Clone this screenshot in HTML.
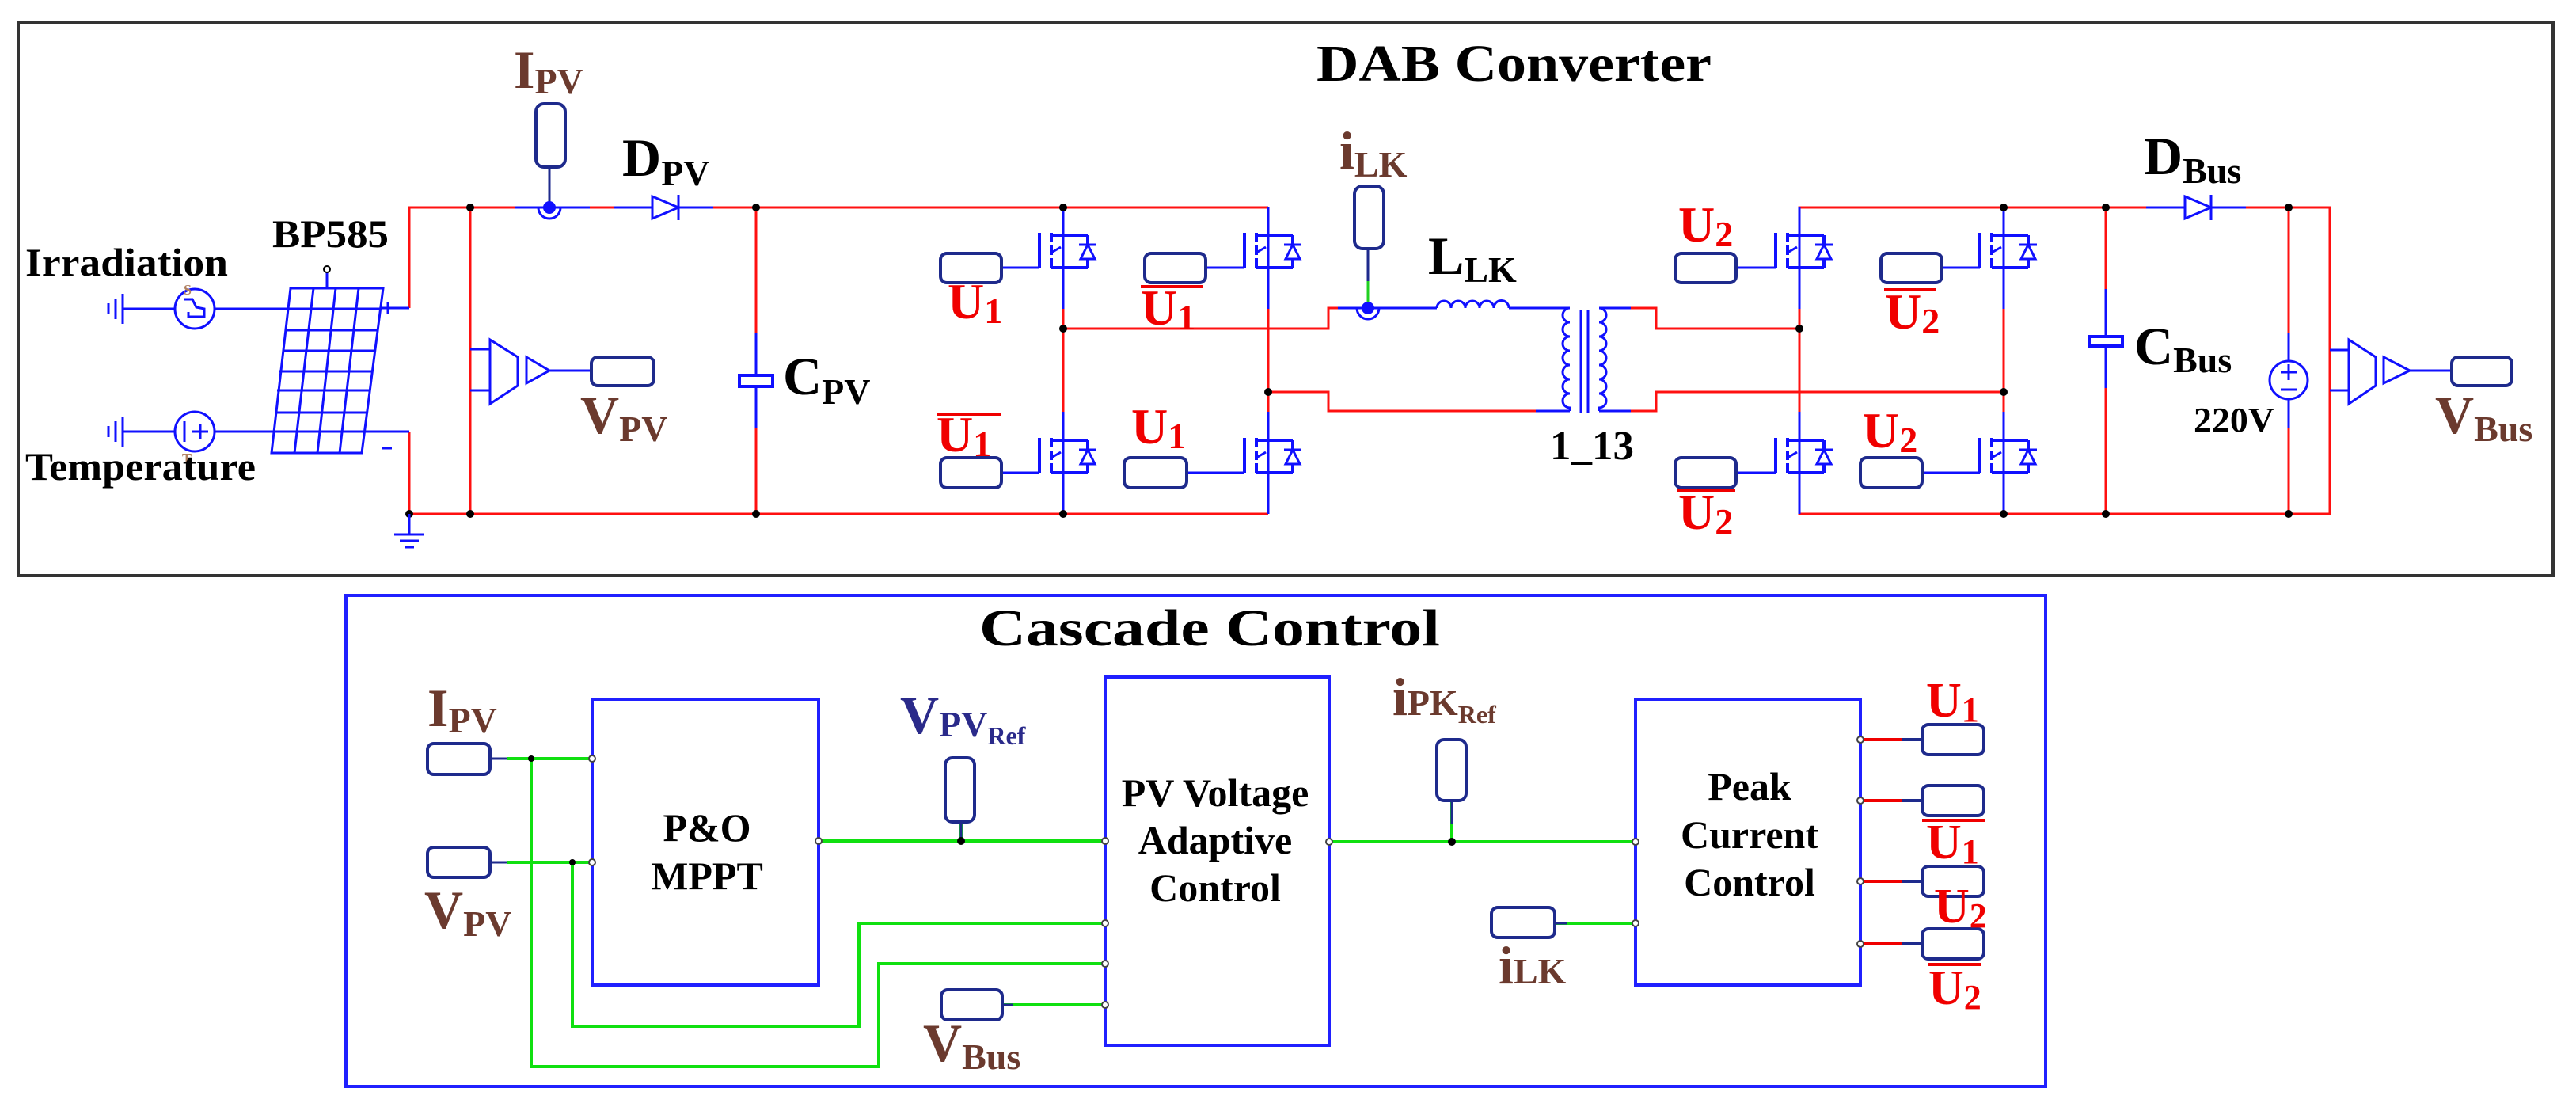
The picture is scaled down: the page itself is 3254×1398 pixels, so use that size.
<!DOCTYPE html>
<html><head><meta charset="utf-8"><style>
html,body{margin:0;padding:0;background:#fff;}
svg{display:block;}
text{font-family:"Liberation Serif",serif;font-weight:bold;}
</style></head><body>
<svg width="3254" height="1398" viewBox="0 0 3254 1398" xmlns="http://www.w3.org/2000/svg">
<defs>
<g id="swU">
  <line x1="-30" y1="-3" x2="-30" y2="41" stroke="#1010ff" stroke-width="4"/>
  <line x1="-15" y1="-3" x2="-15" y2="44" stroke="#1010ff" stroke-width="4" stroke-dasharray="12,4"/>
  <line x1="-15" y1="0" x2="31" y2="0" stroke="#1010ff" stroke-width="4"/>
  <line x1="-15" y1="41" x2="31" y2="41" stroke="#1010ff" stroke-width="4"/>
  <line x1="31" y1="0" x2="31" y2="41" stroke="#1010ff" stroke-width="4"/>
  <line x1="-15" y1="22" x2="-3" y2="15" stroke="#1010ff" stroke-width="3"/>
  <polygon points="31,12 22,30 40,30" fill="#fff" stroke="#1010ff" stroke-width="3"/>
  <line x1="20" y1="12" x2="42" y2="12" stroke="#1010ff" stroke-width="3"/>
</g>
</defs>

<!-- ===== TOP BOX ===== -->
<rect x="23" y="28" width="3202" height="699" fill="none" stroke="#333" stroke-width="4"/>
<text x="1663" y="102" font-size="66" textLength="499" lengthAdjust="spacingAndGlyphs">DAB Converter</text>

<g fill="none" stroke="#ff1010" stroke-width="3">
  <path d="M517 389 V262 H1602"/>
  <path d="M517 545 V649 H1602"/>
  <line x1="594" y1="262" x2="594" y2="649"/>
  <line x1="955" y1="262" x2="955" y2="649"/>
  <line x1="1343" y1="262" x2="1343" y2="649"/>
  <line x1="1602" y1="262" x2="1602" y2="649"/>
  <path d="M1343 415 H1678 V389 H1720"/>
  <path d="M1602 495 H1678 V519 H1960"/>
  <path d="M2040 389 H2092 V415 H2273"/>
  <path d="M2040 519 H2092 V495 H2531"/>
  <path d="M2273 262 H2943 V649 H2273 Z"/>
  <line x1="2531" y1="262" x2="2531" y2="649"/>
  <line x1="2660" y1="262" x2="2660" y2="649"/>
  <line x1="2891" y1="262" x2="2891" y2="649"/>
</g>
<g fill="none" stroke="#1010ff" stroke-width="3">
  <line x1="650" y1="262" x2="745" y2="262"/>
  <line x1="775" y1="262" x2="901" y2="262"/>
  <line x1="955" y1="420" x2="955" y2="540"/>
  <line x1="1343" y1="262" x2="1343" y2="390"/>
  <line x1="1343" y1="520" x2="1343" y2="649"/>
  <line x1="1602" y1="262" x2="1602" y2="390"/>
  <line x1="1602" y1="520" x2="1602" y2="649"/>
  <line x1="2273" y1="262" x2="2273" y2="390"/>
  <line x1="2273" y1="520" x2="2273" y2="649"/>
  <line x1="2531" y1="262" x2="2531" y2="390"/>
  <line x1="2531" y1="520" x2="2531" y2="649"/>
  <line x1="2660" y1="365" x2="2660" y2="490"/>
  <line x1="2711" y1="262" x2="2837" y2="262"/>
  <line x1="2891" y1="420" x2="2891" y2="540"/>
  <path d="M1690 389 H1815"/>
  <path d="M1906 389 H1983"/>
  <path d="M1940 519 H1983"/>
  <path d="M2020 389 H2060"/>
  <path d="M2020 519 H2060"/>
  <path d="M594 441 H619 M594 493 H619"/>
  <path d="M2943 442 H2967 M2943 493 H2967"/>
</g>
<g fill="#fff" stroke="#1010ff" stroke-width="4">
  <rect x="934" y="474" width="42" height="14"/>
  <rect x="2639" y="425" width="42" height="12"/>
</g>
<g fill="#000">
  <circle cx="594" cy="262" r="5"/><circle cx="594" cy="649" r="5"/>
  <circle cx="955" cy="262" r="5"/><circle cx="955" cy="649" r="5"/>
  <circle cx="517" cy="649" r="5"/>
  <circle cx="1343" cy="262" r="5"/><circle cx="1343" cy="649" r="5"/><circle cx="1343" cy="415" r="5"/>
  <circle cx="1602" cy="495" r="5"/>
  <circle cx="2273" cy="415" r="5"/><circle cx="2531" cy="495" r="5"/>
  <circle cx="2531" cy="262" r="5"/><circle cx="2531" cy="649" r="5"/>
  <circle cx="2660" cy="262" r="5"/><circle cx="2660" cy="649" r="5"/>
  <circle cx="2891" cy="262" r="5"/><circle cx="2891" cy="649" r="5"/>
</g>

<g fill="#fff" stroke="#1010ff" stroke-width="3">
  <polygon points="824,248 857,262 824,276"/>
  <line x1="857" y1="246" x2="857" y2="278"/>
  <polygon points="2760,248 2793,262 2760,276"/>
  <line x1="2793" y1="246" x2="2793" y2="278"/>
</g>

<g fill="none" stroke="#1010ff" stroke-width="3">
  <path d="M680 262 A14 14 0 0 0 708 262"/>
  <line x1="694" y1="211" x2="694" y2="262" stroke="#1e2a8c"/>
</g>
<circle cx="694" cy="262" r="8" fill="#1010ff"/>
<rect x="677" y="131" width="37" height="80" rx="10" fill="#fff" stroke="#1e2a8c" stroke-width="4"/>

<g fill="none" stroke="#1010ff" stroke-width="3">
  <path d="M1714 389 A14 14 0 0 0 1742 389"/>
  <line x1="1728" y1="314" x2="1728" y2="355" stroke="#1e2a8c"/>
  <line x1="1728" y1="355" x2="1728" y2="385" stroke="#20d020"/>
</g>
<circle cx="1728" cy="389" r="8" fill="#1010ff"/>
<rect x="1711" y="235" width="37" height="79" rx="10" fill="#fff" stroke="#1e2a8c" stroke-width="4"/>

<path d="M1815 389 a9 9 0 0 1 18 0 a9 9 0 0 1 18 0 a9 9 0 0 1 18 0 a9 9 0 0 1 18 0 a9 9 0 0 1 19 0" fill="none" stroke="#1010ff" stroke-width="3"/>
<path d="M1983 389 a9 9 0 0 0 0 18 a9 9 0 0 0 0 18 a9 9 0 0 0 0 18 a9 9 0 0 0 0 18 a9 9 0 0 0 0 18 a9 9 0 0 0 0 18 a9 9 0 0 0 0 18 v4" fill="none" stroke="#1010ff" stroke-width="3"/>
<path d="M2020 389 a9 9 0 0 1 0 18 a9 9 0 0 1 0 18 a9 9 0 0 1 0 18 a9 9 0 0 1 0 18 a9 9 0 0 1 0 18 a9 9 0 0 1 0 18 a9 9 0 0 1 0 18 v4" fill="none" stroke="#1010ff" stroke-width="3"/>
<line x1="1997" y1="392" x2="1997" y2="522" stroke="#1010ff" stroke-width="3"/>
<line x1="2006" y1="392" x2="2006" y2="522" stroke="#1010ff" stroke-width="3"/>

<use href="#swU" x="1343" y="297"/>
<use href="#swU" x="1343" y="556"/>
<use href="#swU" x="1602" y="297"/>
<use href="#swU" x="1602" y="556"/>
<use href="#swU" x="2273" y="297"/>
<use href="#swU" x="2273" y="556"/>
<use href="#swU" x="2531" y="297"/>
<use href="#swU" x="2531" y="556"/>
<g stroke="#1010ff" stroke-width="3">
  <line x1="1265" y1="338" x2="1313" y2="338"/><line x1="1265" y1="597" x2="1313" y2="597"/>
  <line x1="1523" y1="338" x2="1572" y2="338"/><line x1="1499" y1="597" x2="1572" y2="597"/>
  <line x1="2193" y1="338" x2="2243" y2="338"/><line x1="2193" y1="597" x2="2243" y2="597"/>
  <line x1="2453" y1="338" x2="2501" y2="338"/><line x1="2428" y1="597" x2="2501" y2="597"/>
</g>
<g fill="#fff" stroke="#1e2a8c" stroke-width="4">
  <rect x="1188" y="320" width="77" height="37" rx="8"/>
  <rect x="1188" y="578" width="77" height="38" rx="8"/>
  <rect x="1446" y="320" width="77" height="37" rx="8"/>
  <rect x="1420" y="578" width="79" height="38" rx="8"/>
  <rect x="2116" y="320" width="77" height="37" rx="8"/>
  <rect x="2116" y="578" width="77" height="38" rx="8"/>
  <rect x="2376" y="320" width="77" height="37" rx="8"/>
  <rect x="2350" y="578" width="78" height="38" rx="8"/>
</g>

<g fill="#fff" stroke="#1010ff" stroke-width="3">
  <polygon points="619,429 654,451 654,487 619,510"/>
  <polygon points="665,451 694,468 665,484"/>
  <line x1="694" y1="468" x2="747" y2="468"/>
  <polygon points="2967,429 3001,451 3001,487 2967,510"/>
  <polygon points="3011,451 3044,468 3011,484"/>
  <line x1="3044" y1="468" x2="3097" y2="468"/>
</g>
<g fill="#fff" stroke="#1e2a8c" stroke-width="4">
  <rect x="747" y="451" width="79" height="36" rx="8"/>
  <rect x="3097" y="451" width="76" height="36" rx="8"/>
</g>

<ellipse cx="2891" cy="480" rx="24" ry="24" fill="#fff" stroke="#1010ff" stroke-width="3"/>
<g stroke="#1010ff" stroke-width="3"><line x1="2881" y1="470" x2="2901" y2="470"/><line x1="2891" y1="460" x2="2891" y2="480"/><line x1="2881" y1="492" x2="2901" y2="492"/></g>

<g fill="none" stroke="#1010ff" stroke-width="3">
  <polygon points="367,364 484,364 457,572 343,572"/>
  <line x1="363" y1="390" x2="481" y2="390"/>
  <line x1="360" y1="417" x2="478" y2="417"/>
  <line x1="357" y1="443" x2="474" y2="443"/>
  <line x1="353" y1="469" x2="471" y2="469"/>
  <line x1="350" y1="493" x2="468" y2="493"/>
  <line x1="348" y1="521" x2="464" y2="521"/>
  <line x1="345" y1="545" x2="461" y2="545"/>
  <line x1="396" y1="364" x2="372" y2="572"/>
  <line x1="424" y1="364" x2="401" y2="572"/>
  <line x1="453" y1="364" x2="429" y2="572"/>
  <line x1="413" y1="364" x2="413" y2="344"/>
  <line x1="221" y1="390" x2="367" y2="390"/>
  <line x1="221" y1="545" x2="345" y2="545"/>
  <line x1="481" y1="389" x2="517" y2="389"/>
  <line x1="461" y1="545" x2="517" y2="545"/>
  <line x1="155" y1="390" x2="221" y2="390"/>
  <line x1="155" y1="545" x2="221" y2="545"/>
  <line x1="137" y1="383" x2="137" y2="397"/><line x1="146" y1="377" x2="146" y2="403"/><line x1="155" y1="371" x2="155" y2="409"/>
  <line x1="137" y1="538" x2="137" y2="552"/><line x1="146" y1="532" x2="146" y2="558"/><line x1="155" y1="526" x2="155" y2="564"/>
  <line x1="517" y1="649" x2="517" y2="675"/>
  <line x1="498" y1="675" x2="536" y2="675"/><line x1="505" y1="683" x2="529" y2="683"/><line x1="511" y1="691" x2="523" y2="691"/>
</g>
<circle cx="413" cy="340" r="4" fill="#fff" stroke="#000" stroke-width="2"/>
<g fill="#fff" stroke="#1010ff" stroke-width="3">
  <circle cx="246" cy="390" r="25"/>
  <circle cx="246" cy="545" r="25"/>
</g>
<path d="M233 378 L243 378 L248 388 L258 390 L258 400 L238 400 L238 394" fill="none" stroke="#1010ff" stroke-width="3"/>
<g stroke="#1010ff" stroke-width="3"><line x1="233" y1="532" x2="233" y2="558"/><line x1="243" y1="545" x2="263" y2="545"/><line x1="253" y1="535" x2="253" y2="555"/>
<line x1="490" y1="382" x2="490" y2="396"/><line x1="483" y1="389" x2="497" y2="389"/><line x1="483" y1="566" x2="495" y2="566"/></g>
<text x="232" y="372" font-size="18" fill="#b08060" font-weight="normal">S</text>
<text x="230" y="585" font-size="18" fill="#b08060" font-weight="normal">T</text>

<g font-size="68">
  <text x="32" y="348" font-size="50" textLength="256" lengthAdjust="spacingAndGlyphs">Irradiation</text>
  <text x="32" y="606" font-size="50" textLength="291" lengthAdjust="spacingAndGlyphs">Temperature</text>
  <text x="344" y="312" font-size="50" textLength="147" lengthAdjust="spacingAndGlyphs">BP585</text>
  <text x="649" y="111" fill="#6b3a2e">I<tspan font-size="46" dy="7">PV</tspan></text>
  <text x="786" y="222">D<tspan font-size="46" dy="12">PV</tspan></text>
  <text x="989" y="498">C<tspan font-size="46" dy="12">PV</tspan></text>
  <text x="733" y="547" fill="#6b3a2e">V<tspan font-size="46" dy="10">PV</tspan></text>
  <text x="1692" y="213" fill="#6b3a2e">i<tspan font-size="46" dy="10">LK</tspan></text>
  <text x="1804" y="346">L<tspan font-size="46" dy="10">LK</tspan></text>
  <text x="1958" y="580" font-size="52" textLength="106" lengthAdjust="spacingAndGlyphs">1_13</text>
  <text x="2708" y="220">D<tspan font-size="46" dy="11">Bus</tspan></text>
  <text x="2696" y="460">C<tspan font-size="46" dy="10">Bus</tspan></text>
  <text x="2771" y="545" font-size="44" textLength="102" lengthAdjust="spacingAndGlyphs">220V</text>
  <text x="3076" y="547" fill="#6b3a2e">V<tspan font-size="46" dy="10">Bus</tspan></text>
</g>
<g font-size="64" fill="#f00000">
  <text x="1197" y="402">U<tspan font-size="46" dy="6">1</tspan></text>
  <text x="1441" y="410">U<tspan font-size="46" dy="6">1</tspan></text>
  <text x="1183" y="570">U<tspan font-size="46" dy="6">1</tspan></text>
  <text x="1429" y="560">U<tspan font-size="46" dy="6">1</tspan></text>
  <text x="2120" y="305">U<tspan font-size="46" dy="6">2</tspan></text>
  <text x="2381" y="415">U<tspan font-size="46" dy="6">2</tspan></text>
  <text x="2120" y="668">U<tspan font-size="46" dy="6">2</tspan></text>
  <text x="2353" y="565">U<tspan font-size="46" dy="6">2</tspan></text>
</g>
<g stroke="#f00000" stroke-width="4">
  <line x1="1441" y1="362" x2="1520" y2="362"/>
  <line x1="1183" y1="523" x2="1264" y2="523"/>
  <line x1="2380" y1="366" x2="2446" y2="366"/>
  <line x1="2118" y1="619" x2="2192" y2="619"/>
</g>

<!-- ===== BOTTOM BOX ===== -->
<rect x="437" y="752" width="2147" height="620" fill="none" stroke="#2020ff" stroke-width="4"/>
<text x="1237" y="815" font-size="66" textLength="582" lengthAdjust="spacingAndGlyphs">Cascade Control</text>

<g fill="none" stroke="#10e010" stroke-width="4">
  <path d="M641 958 H748"/>
  <path d="M641 1089 H748"/>
  <path d="M671 958 V1347 H1110 V1217 H1396"/>
  <path d="M723 1089 V1296 H1085 V1166 H1396"/>
  <path d="M1034 1062 H1396"/>
  <path d="M1266 1269 H1396"/>
  <path d="M1679 1063 H2066"/>
  <path d="M1964 1166 H2066"/>
  <line x1="1214" y1="1010" x2="1214" y2="1062"/>
  <line x1="1834" y1="990" x2="1834" y2="1063"/>
</g>
<g stroke="#1e2a8c" stroke-width="3">
  <line x1="619" y1="958" x2="641" y2="958"/><line x1="619" y1="1089" x2="641" y2="1089"/>
  <line x1="1214" y1="1038" x2="1214" y2="1060"/>
  <line x1="1834" y1="1011" x2="1834" y2="1040"/>
  <line x1="1266" y1="1269" x2="1280" y2="1269"/>
  <line x1="1964" y1="1166" x2="1980" y2="1166"/>
</g>
<g fill="#000"><circle cx="671" cy="958" r="4"/><circle cx="723" cy="1089" r="4"/><circle cx="1214" cy="1062" r="5"/><circle cx="1834" cy="1063" r="5"/></g>

<g fill="#fff" stroke="#2020ff" stroke-width="4">
  <rect x="748" y="883" width="286" height="361"/>
  <rect x="1396" y="855" width="283" height="465"/>
  <rect x="2066" y="883" width="284" height="361"/>
</g>
<g stroke-width="4">
  <path d="M2350 934 H2402 M2350 1011 H2402 M2350 1113 H2402 M2350 1192 H2402" stroke="#f00000"/>
  <path d="M2402 934 H2428 M2402 1011 H2428 M2402 1113 H2428 M2402 1192 H2428" stroke="#1e2a8c"/>
</g>
<g fill="#fff" stroke="#444" stroke-width="2">
  <circle cx="748" cy="958" r="4"/><circle cx="748" cy="1089" r="4"/><circle cx="1034" cy="1062" r="4"/>
  <circle cx="1396" cy="1062" r="4"/><circle cx="1396" cy="1166" r="4"/><circle cx="1396" cy="1217" r="4"/><circle cx="1396" cy="1269" r="4"/>
  <circle cx="1679" cy="1063" r="4"/><circle cx="2066" cy="1063" r="4"/><circle cx="2066" cy="1166" r="4"/>
  <circle cx="2350" cy="934" r="4"/><circle cx="2350" cy="1011" r="4"/><circle cx="2350" cy="1113" r="4"/><circle cx="2350" cy="1192" r="4"/>
</g>
<g fill="#fff" stroke="#1e2a8c" stroke-width="4">
  <rect x="540" y="939" width="79" height="39" rx="8"/>
  <rect x="540" y="1070" width="79" height="38" rx="8"/>
  <rect x="1194" y="957" width="37" height="81" rx="9"/>
  <rect x="1189" y="1250" width="77" height="38" rx="8"/>
  <rect x="1815" y="934" width="37" height="77" rx="9"/>
  <rect x="1884" y="1146" width="80" height="38" rx="8"/>
  <rect x="2428" y="915" width="78" height="38" rx="8"/>
  <rect x="2428" y="992" width="78" height="38" rx="8"/>
  <rect x="2428" y="1094" width="78" height="38" rx="8"/>
  <rect x="2428" y="1173" width="78" height="38" rx="8"/>
</g>

<g font-size="50" text-anchor="middle">
  <text x="893" y="1062">P&amp;O</text>
  <text x="893" y="1123">MPPT</text>
  <text x="1535" y="1018">PV Voltage</text>
  <text x="1535" y="1078">Adaptive</text>
  <text x="1535" y="1138">Control</text>
  <text x="2210" y="1010">Peak</text>
  <text x="2210" y="1071">Current</text>
  <text x="2210" y="1131">Control</text>
</g>
<g font-size="68">
  <text x="540" y="917" fill="#6b3a2e">I<tspan font-size="46" dy="8">PV</tspan></text>
  <text x="536" y="1172" fill="#6b3a2e">V<tspan font-size="46" dy="10">PV</tspan></text>
  <text x="1137" y="926" fill="#2a2a8a">V<tspan font-size="46" dy="4">PV</tspan><tspan font-size="32" dy="10">Ref</tspan></text>
  <text x="1166" y="1340" fill="#6b3a2e">V<tspan font-size="46" dy="10">Bus</tspan></text>
  <text x="1759" y="903" fill="#6b3a2e">i<tspan font-size="46" dy="0">PK</tspan><tspan font-size="32" dy="10">Ref</tspan></text>
  <text x="1893" y="1242" fill="#6b3a2e">i<tspan font-size="46" dy="0">LK</tspan></text>
</g>
<g font-size="62" fill="#f00000">
  <text x="2433" y="905">U<tspan font-size="44" dy="6">1</tspan></text>
  <text x="2433" y="1084">U<tspan font-size="44" dy="6">1</tspan></text>
  <text x="2443" y="1165">U<tspan font-size="44" dy="6">2</tspan></text>
  <text x="2436" y="1268">U<tspan font-size="44" dy="6">2</tspan></text>
</g>
<g stroke="#f00000" stroke-width="4">
  <line x1="2428" y1="1036" x2="2507" y2="1036"/>
  <line x1="2436" y1="1218" x2="2502" y2="1218"/>
</g>
</svg>
</body></html>
